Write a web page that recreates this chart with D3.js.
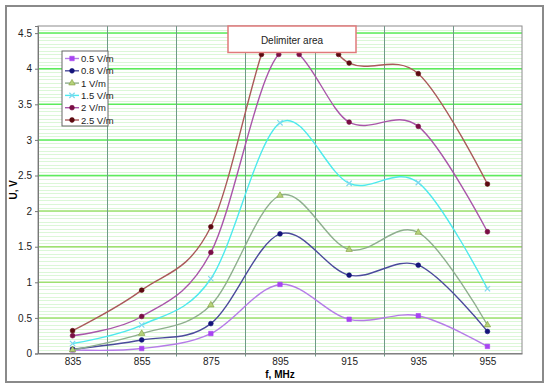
<!DOCTYPE html>
<html lang="en">
<head>
<meta charset="utf-8">
<title>U vs f</title>
<style>
  body { margin: 0; background: #fff; }
  svg text { font-family: "Liberation Sans", Arial, sans-serif; }
</style>
</head>
<body>
<svg id="chart" width="550" height="388"></svg>
<script src="https://d3js.org/d3.v7.min.js"></script>
<script>
// frequencies (MHz)
const freqs = [835, 855, 875, 895, 915, 935, 955]
const yTicks = [0, 0.5, 1, 1.5, 2, 2.5, 3, 3.5, 4, 4.5]
const limit = 4.2 // bottom edge of the delimiter area

const u05 = [0.05, 0.07, 0.28, 0.97, 0.48, 0.53, 0.10]
const u08 = [0.06, 0.19, 0.42, 1.68, 1.10, 1.24, 0.31]
const u1 = [0.05, 0.28, 0.68, 2.22, 1.46, 1.70, 0.40]
const u15 = [0.14, 0.40, 1.05, 3.24, 2.39, 2.40, 0.91]
const u2 = [0.25, 0.52, 1.42, 4.22, 3.25, 3.19, 1.71]
const u25 = [0.32, 0.89, 1.78, 4.8, 4.08, 3.93, 2.38]

const series = [
    { name: "0.5 V/m", u: u05, line: "#b57ce8", mark: "#a844f2", sym: "square" },
    { name: "0.8 V/m", u: u08, line: "#4b4b9c", mark: "#14147a", sym: "circle" },
    { name: "1 V/m", u: u1, line: "#8fae8f", mark: "#b5d27a", sym: "triangle" },
    { name: "1.5 V/m", u: u15, line: "#4ee9ee", mark: "#7fd7ee", sym: "cross" },
    { name: "2 V/m", u: u2, line: "#a956a9", mark: "#7a0f45", sym: "circle" },
    { name: "2.5 V/m", u: u25, line: "#aa5a5a", mark: "#5c0a10", sym: "circle" }
]

const svg = d3.select("#chart")
const L = 38, R = 522, T = 26, B = 353.5

// outer frame
svg.append("rect").attr("x", 6).attr("y", 6).attr("width", 537).attr("height", 376)
    .attr("fill", "#fff").attr("stroke", "#8a8a8a").attr("stroke-width", 2)

const x = d3.scaleLinear().domain([825, 965]).range([L, R])
const y = d3.scaleLinear().domain([0, 4.6]).range([B, T])

svg.append("clipPath").attr("id", "plot")
    .append("rect").attr("x", L).attr("y", T).attr("width", R - L).attr("height", B - T)

const g = svg.append("g")

// minor horizontal grid
g.selectAll(".minor").data(d3.range(0.05, 4.6, 0.05)).join("line")
    .attr("x1", L).attr("x2", R)
    .attr("y1", d => Math.round(y(d)) + 0.5).attr("y2", d => Math.round(y(d)) + 0.5)
    .attr("stroke", "#dcf7d8").attr("stroke-width", 1)

// major horizontal grid
g.selectAll(".major").data(yTicks.slice(1)).join("line")
    .attr("x1", L).attr("x2", R)
    .attr("y1", d => y(d)).attr("y2", d => y(d))
    .attr("stroke", d => d <= 2 ? "#9fe070" : "#5cec5c").attr("stroke-width", 1.5)

// vertical grid between categories
const bounds = freqs.slice(0, -1).map(f => f + 10)
g.selectAll(".vgrid").data(bounds).join("line")
    .attr("x1", d => Math.round(x(d)) + 0.5).attr("x2", d => Math.round(x(d)) + 0.5)
    .attr("y1", T).attr("y2", B + 3)
    .attr("stroke", "#6f9a88").attr("stroke-width", 1)

// plot border
g.append("rect").attr("x", L).attr("y", T).attr("width", R - L).attr("height", B - T)
    .attr("fill", "none").attr("stroke", "#8c8c8c")

// axes
const yAxis = g.append("g").attr("transform", `translate(${L},0)`)
    .call(d3.axisLeft(y).tickValues(yTicks).tickSize(3).tickPadding(3).tickFormat(d3.format("")))
yAxis.select(".domain").attr("stroke", "#777")
yAxis.selectAll("line").attr("stroke", "#777")
yAxis.selectAll("text").attr("font-size", 10).attr("fill", "#222")

const xAxis = g.append("g").attr("transform", `translate(0,${B})`)
    .call(d3.axisBottom(x).tickValues(freqs).tickSize(0).tickPadding(4).tickFormat(d3.format("")))
xAxis.select(".domain").attr("stroke", "#777")
xAxis.selectAll("text").attr("font-size", 10).attr("fill", "#222")

svg.append("text").attr("x", x(895)).attr("y", 378).attr("text-anchor", "middle")
    .attr("font-size", 10).attr("font-weight", "bold").text("f, MHz")
svg.append("text").attr("transform", `translate(17,${(T + B) / 2}) rotate(-90)`)
    .attr("text-anchor", "middle").attr("font-size", 10).attr("font-weight", "bold").text("U, V")

// lines
const line = d3.line().x(d => x(d[0])).y(d => y(d[1])).curve(d3.curveCatmullRom.alpha(0))
const symType = { square: d3.symbolSquare, triangle: d3.symbolTriangle,
    cross: d3.symbolX, circle: d3.symbolCircle }
const symSize = { square: 20, triangle: 18, cross: 20, circle: 18 }

function marker(sel, s) {
    sel.attr("d", d3.symbol(symType[s.sym], symSize[s.sym]))
        .attr("fill", s.sym === "cross" ? "none" : s.mark)
        .attr("stroke", s.sym === "triangle" ? "#7f9a3a" : s.mark)
        .attr("stroke-width", s.sym === "cross" ? 1.2 : 0.6)
}

const yLim = y(limit)
series.forEach(s => {
    const pts = freqs.map((f, i) => [f, s.u[i]])
    const path = g.append("path").attr("d", line(pts)).attr("fill", "none")
        .attr("clip-path", "url(#plot)")
        .attr("stroke", s.line).attr("stroke-width", 1.4)
    const shown = pts.filter(d => d[1] <= limit)
    // where the curve enters / leaves the delimiter area, mark it
    if (shown.length < pts.length) {
        const node = path.node(), len = node.getTotalLength()
        let prev = node.getPointAtLength(0)
        for (let l = 0.5; l <= len; l += 0.5) {
            const p = node.getPointAtLength(l)
            if ((prev.y - yLim) * (p.y - yLim) <= 0 && prev.y !== p.y) {
                shown.push([x.invert(p.x), limit])
            }
            prev = p
        }
    }
    g.selectAll(null).data(shown).join("path")
        .attr("transform", d => `translate(${x(d[0])},${y(d[1])})`)
        .call(marker, s)
})

// delimiter area
svg.append("rect").attr("x", 228).attr("y", T).attr("width", 128).attr("height", yLim - T - 2)
    .attr("fill", "#fff").attr("stroke", "#e07a7a").attr("stroke-width", 1.5)
svg.append("text").attr("x", 292).attr("y", 44).attr("text-anchor", "middle")
    .attr("font-size", 10).attr("fill", "#222").text("Delimiter area")

// legend
const lg = svg.append("g").attr("transform", "translate(62,51)")
lg.append("rect").attr("width", 46).attr("height", 75).attr("fill", "#fff").attr("stroke", "#666")
series.forEach((s, i) => {
    const yy = 7.5 + i * 12.3
    lg.append("line").attr("x1", 3).attr("x2", 17).attr("y1", yy).attr("y2", yy)
        .attr("stroke", s.line).attr("stroke-width", 1.4)
    lg.append("path").attr("transform", `translate(10,${yy})`).call(marker, s)
    lg.append("text").attr("x", 19).attr("y", yy + 3.5).attr("font-size", 9.5)
        .attr("fill", "#222").text(s.name)
})
</script>
</body>
</html>
